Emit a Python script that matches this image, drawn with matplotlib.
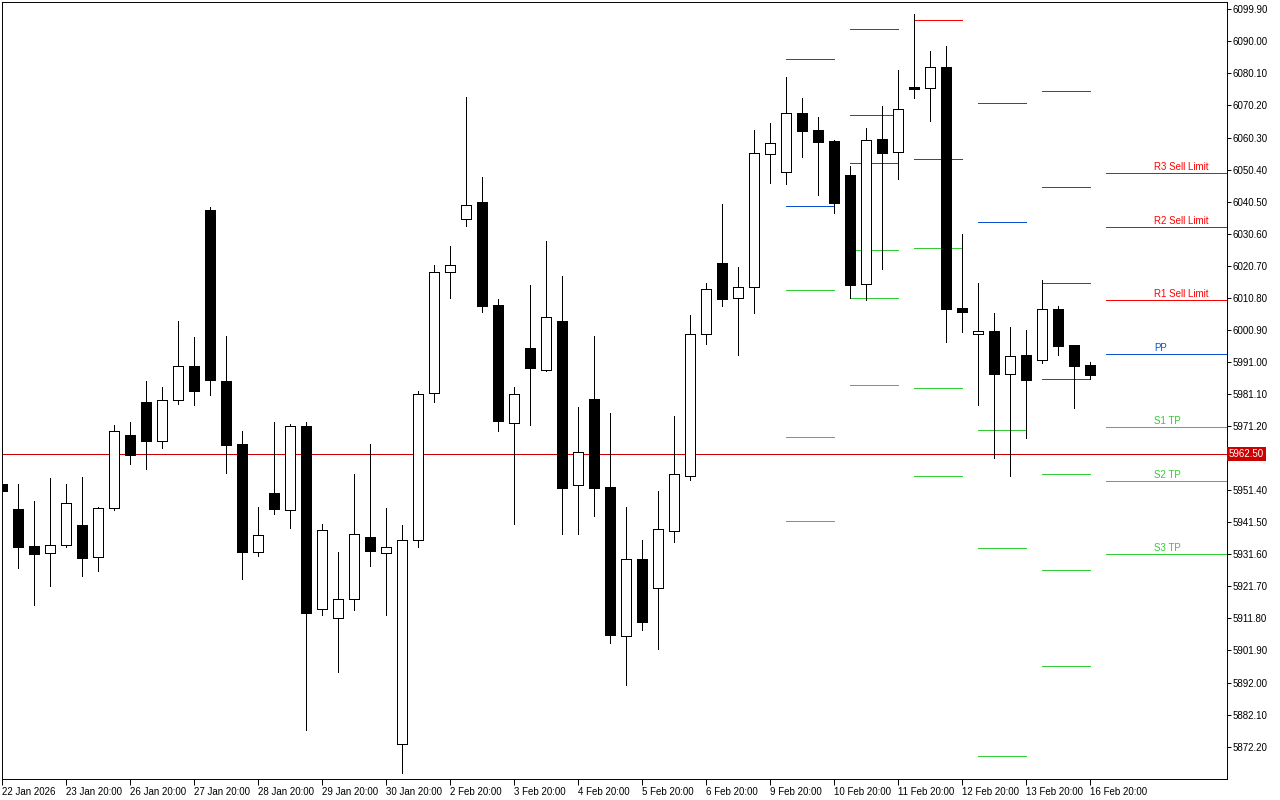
import numpy as np
import matplotlib.pyplot as plt
from matplotlib.patches import Rectangle
from matplotlib.transforms import blended_transform_factory

plt.rcParams['font.family'] = ['Liberation Sans', 'DejaVu Sans']

# H6 bars, oldest first
opens = [5953.3, 5945.6, 5934.2, 5931.9, 5934.4, 5940.7, 5930.7, 5945.8, 5968.4, 5978.6,
         5966.7, 5979.2, 5989.8, 6038.0, 5985.2, 5965.7, 5932.2, 5950.5, 5945.2, 5971.2,
         5914.7, 5911.8, 5917.7, 5937.0, 5931.9, 5872.9, 5936.0, 5981.4, 6018.7, 6035.1,
         6040.3, 6008.6, 5972.1, 5995.3, 5988.5, 6003.8, 5953.0, 5979.5, 5952.3, 5906.3,
         5930.2, 5921.1, 5938.8, 5955.8, 5999.5, 6021.6, 6010.7, 6014.0, 6055.3, 6049.8,
         6067.9, 6062.6, 6059.2, 6048.7, 6015.0, 6059.8, 6055.7, 6075.8, 6075.5, 6082.1,
         6007.7, 5999.5, 6000.6, 5987.4, 5993.2, 5991.5, 6007.4, 5996.2, 5990.1]
highs = [5953.3, 5953.3, 5948.1, 5955.2, 5953.3, 5955.5, 5946.2, 5971.5, 5972.5, 5985.1,
         5983.3, 6003.7, 5998.7, 6038.7, 5999.0, 5969.7, 5946.2, 5972.5, 5971.8, 5972.5,
         5941.0, 5932.4, 5956.5, 5965.7, 5945.9, 5940.7, 5982.1, 6020.9, 6026.9, 6072.8,
         6048.1, 6010.4, 5983.3, 6014.8, 6028.4, 6017.5, 5977.1, 5999.1, 5975.2, 5946.2,
         5936.0, 5951.2, 5974.4, 6005.6, 6015.4, 6039.8, 6020.3, 6062.6, 6064.8, 6079.0,
         6072.5, 6066.6, 6059.4, 6051.5, 6063.2, 6070.0, 6081.2, 6098.5, 6087.0, 6088.6,
         6030.5, 6015.4, 6006.1, 6001.8, 6000.9, 6016.3, 6008.3, 5996.3, 5991.0]
lows = [5951.2, 5927.5, 5916.0, 5921.9, 5934.0, 5925.0, 5926.5, 5945.4, 5959.6, 5958.0,
        5964.5, 5978.1, 5977.8, 5980.8, 5956.8, 5924.1, 5931.2, 5944.1, 5939.8, 5877.4,
        5912.9, 5895.2, 5914.5, 5927.9, 5912.8, 5864.1, 5934.0, 5978.5, 6010.6, 6033.1,
        6006.5, 5969.8, 5941.1, 5971.6, 5988.2, 5938.0, 5938.0, 5943.3, 5904.1, 5891.1,
        5908.1, 5902.3, 5935.3, 5954.5, 5996.4, 6008.4, 5993.3, 6006.2, 6046.4, 6046.1,
        6054.4, 6042.6, 6037.1, 6010.8, 6010.1, 6019.8, 6047.6, 6072.6, 6065.5, 5997.3,
        6000.3, 5977.8, 5961.3, 5955.9, 5967.6, 5990.6, 5993.2, 5976.9, 5985.8]
closes = [5951.2, 5934.0, 5931.8, 5934.4, 5947.4, 5930.6, 5945.8, 5969.6, 5962.4, 5966.7,
          5979.2, 5989.8, 5982.1, 5985.5, 5965.5, 5932.2, 5937.5, 5945.7, 5971.2, 5913.6,
          5939.1, 5917.7, 5937.8, 5932.7, 5933.8, 5936.0, 5981.0, 6018.7, 6020.9, 6039.4,
          6008.4, 5972.9, 5981.0, 5989.0, 6004.8, 5952.0, 5963.1, 5952.2, 5906.8, 5930.1,
          5910.8, 5939.4, 5956.3, 5999.5, 6013.5, 6010.5, 6014.0, 6055.4, 6058.5, 6067.8,
          6062.4, 6059.0, 6040.2, 6014.8, 6059.5, 6055.6, 6069.0, 6075.4, 6082.0, 6007.5,
          6006.5, 6000.6, 5987.4, 5992.8, 5985.5, 6007.3, 5996.0, 5989.9, 5987.1]

date_labels = ["22 Jan 2026", "23 Jan 20:00", "26 Jan 20:00", "27 Jan 20:00", "28 Jan 20:00",
               "29 Jan 20:00", "30 Jan 20:00", "2 Feb 20:00", "3 Feb 20:00", "4 Feb 20:00",
               "5 Feb 20:00", "6 Feb 20:00", "9 Feb 20:00", "10 Feb 20:00", "11 Feb 20:00",
               "12 Feb 20:00", "13 Feb 20:00", "16 Feb 20:00"]

# daily pivots of the last days (first bar, last bar of each day)
day_start = [49, 53, 57, 61, 65]
day_end = [52, 56, 60, 64, 68]
r3 = [None, None, None, None, 6074.6]
r2 = [None, 6093.7, None, None, 6044.9]
r1 = [6084.5, 6067.2, 6096.5, 6070.9, 6015.3]
pp = [6039.1, 6052.4, 6053.6, 6034.1, 5985.7]
s1 = [6013.1, 6025.5, 6026.1, 5969.9, 5956.4]
s2 = [5967.7, 6010.7, 5982.9, 5933.6, 5926.8]
s3 = [5941.9, 5983.8, 5955.7, 5869.3, 5897.1]

# current day levels
cur_names = ["R3 Sell Limit", "R2 Sell Limit", "R1 Sell Limit", "PP", "S1 TP", "S2 TP", "S3 TP"]
cur_levels = [6049.3, 6032.6, 6010.0, 5993.4, 5970.9, 5954.2, 5931.6]
price_line = 5962.50

RED = '#FF0000'
BLUE = '#0B50D0'
GREEN = '#32CD32'
level_colors = [RED, RED, RED, BLUE, GREEN, GREEN, GREEN]
LW = 0.7

fig = plt.figure(figsize=(12.8, 8), dpi=100)
ax = fig.add_axes([2/1280, 21/800, 1225/1280, 777/800])

n = len(opens)
w = 0.64
for i in range(n):
    o, h, l, c = opens[i], highs[i], lows[i], closes[i]
    ax.vlines(i, l, h, color='black', lw=LW, zorder=3, antialiased=False)
    fc = 'white' if c > o else 'black'
    ax.add_patch(Rectangle((i - w/2, min(o, c)), w, max(abs(c - o), 0.3), fc=fc, ec='black',
                           lw=LW, zorder=4, antialiased=False))

# previous days pivot segments
for d in range(len(day_start)):
    for lv, col in zip([r3[d], r2[d], r1[d], pp[d], s1[d], s2[d], s3[d]], level_colors):
        if lv is None:
            continue
        ax.hlines(lv, day_start[d], day_end[d], color=col, lw=LW, zorder=2, antialiased=False)

# current day lines with labels
x_end = 76.6
for name, lv, col in zip(cur_names, cur_levels, level_colors):
    ax.hlines(lv, n, x_end, color=col, lw=LW, zorder=2, antialiased=False)
    ax.annotate(name, (71.98, lv), xytext=(0, 2.2), textcoords='offset points',
                color=col, fontsize=7, ha='left', va='baseline')

ax.axhline(price_line, color='#CC0000', lw=LW, zorder=2, antialiased=False)
trans = blended_transform_factory(ax.transAxes, ax.transData)
ax.text(1.0015, price_line, "%.2f" % price_line, transform=trans, color='white', fontsize=7,
        ha='left', va='center', zorder=10, clip_on=False,
        bbox=dict(boxstyle='square,pad=0.18', fc='#CC0000', ec='none'))

ax.set_xlim(-0.02, 76.54)
ax.set_ylim(5862.22, 6102.15)

yt = [6099.9 - 9.9*k for k in range(24)]
ylabels = ["%.2f" % v for v in yt]
ylabels[14] = ""  # hidden behind the price box
ax.yaxis.tick_right()
ax.set_yticks(yt)
ax.set_yticklabels(ylabels)
ax.tick_params(axis='y', direction='out', length=3, width=LW, pad=1, labelsize=7)

ax.set_xticks(list(range(0, 69, 4)))
ax.set_xticklabels(date_labels)
for lbl in ax.get_xticklabels():
    lbl.set_ha('left')
ax.tick_params(axis='x', direction='out', length=4, width=LW, pad=1.5, labelsize=7)

for sp in ax.spines.values():
    sp.set_linewidth(LW)
    sp.set_color('black')

fig.savefig('out.png', dpi=100, facecolor='white')
